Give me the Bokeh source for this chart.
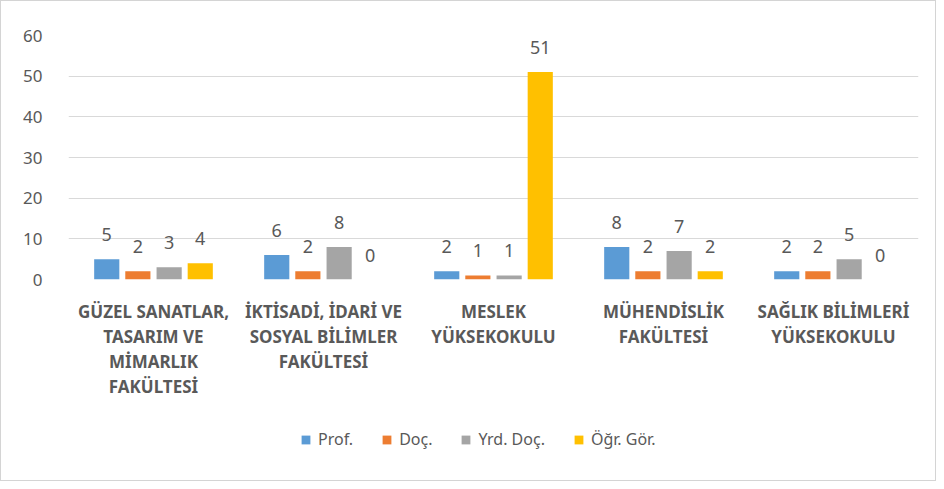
from bokeh.plotting import figure
from bokeh.models import ColumnDataSource, FactorRange, Legend, LegendItem
from bokeh.layouts import column
from bokeh.transform import dodge
from bokeh.core.properties import value
from bokeh.embed import file_html
from bokeh.resources import INLINE

categories = [
    "GÜZEL SANATLAR,\nTASARIM VE\nMİMARLIK\nFAKÜLTESİ",
    "İKTİSADİ, İDARİ VE\nSOSYAL BİLİMLER\nFAKÜLTESİ",
    "MESLEK\nYÜKSEKOKULU",
    "MÜHENDİSLİK\nFAKÜLTESİ",
    "SAĞLIK BİLİMLERİ\nYÜKSEKOKULU",
]
series_names = ["Prof.", "Doç.", "Yrd. Doç.", "Öğr. Gör."]
prof = [5, 6, 2, 8, 2]
doc = [2, 2, 1, 2, 2]
yrd_doc = [3, 8, 1, 7, 5]
ogr_gor = [4, 0, 51, 2, 0]
y_ticks = [0, 10, 20, 30, 40, 50, 60]

colors = ["#5B9BD5", "#ED7D31", "#A5A5A5", "#FFC000"]
offsets = [-0.275, -0.092, 0.092, 0.275]
bar_w = 0.148
font = "Noto Sans"
txt = "#595959"

src = ColumnDataSource(dict(cat=categories, s0=prof, s1=doc, s2=yrd_doc, s3=ogr_gor,
                            l0=[str(v) for v in prof], l1=[str(v) for v in doc],
                            l2=[str(v) for v in yrd_doc], l3=[str(v) for v in ogr_gor]))

p = figure(x_range=FactorRange(*categories, range_padding=0), y_range=(0, 60),
           frame_width=850, frame_height=244, output_backend="svg", toolbar_location=None,
           min_border_left=67, min_border_right=17, min_border_top=34, min_border_bottom=130)
p.outline_line_color = None
p.xgrid.grid_line_color = None
p.ygrid.grid_line_color = "#d9d9d9"
p.ygrid.grid_line_width = 1
p.yaxis.ticker = y_ticks
p.yaxis.axis_line_color = None
p.yaxis.major_tick_line_color = None
p.yaxis.minor_tick_line_color = None
p.yaxis.major_label_text_font = font
p.yaxis.major_label_text_font_size = "17px"
p.yaxis.major_label_text_color = txt
p.yaxis.major_label_standoff = 20
p.xaxis.axis_line_color = None
p.xaxis.major_tick_line_color = None
p.xaxis.major_label_text_font = font
p.xaxis.major_label_text_font_size = "17px"
p.xaxis.major_label_text_color = txt
p.xaxis.major_label_text_font_style = "bold"
p.xaxis.major_label_text_line_height = 1.1
p.xaxis.major_label_standoff = 14

for i in range(4):
    p.vbar(x=dodge("cat", offsets[i], range=p.x_range), top=f"s{i}", width=bar_w,
           source=src, color=colors[i], line_color=None)
    p.text(x=dodge("cat", offsets[i], range=p.x_range), y=f"s{i}", text=f"l{i}", source=src,
           text_align="center", text_baseline="bottom", y_offset=-18,
           text_font=value(font), text_font_size="18px", text_color=txt)

# legend strip (zero-size placeholder renderers only carry the legend swatches)
lf = figure(width=934, height=71, output_backend="svg", toolbar_location=None,
            x_axis_location=None, y_axis_location=None, min_border=0,
            x_range=(0, 1), y_range=(0, 1))
lf.grid.visible = False
lf.outline_line_color = None
items = []
for i in range(4):
    r = lf.vbar(x=[0], top=[0], width=0, color=colors[i], line_color=None)
    items.append(LegendItem(label=series_names[i], renderers=[r]))
legend = Legend(items=items, orientation="horizontal", location=(232, 30),
                label_text_font=font, label_text_font_size="16px", label_text_color=txt,
                glyph_width=11, glyph_height=11, spacing=28, label_standoff=7,
                padding=0, margin=0, border_line_color=None, background_fill_alpha=0)
lf.add_layout(legend, "center")

layout = column(p, lf, spacing=0)
layout.styles = {"border": "1px solid #d4d4d4"}

open("out.html", "w").write(file_html(layout, INLINE))
